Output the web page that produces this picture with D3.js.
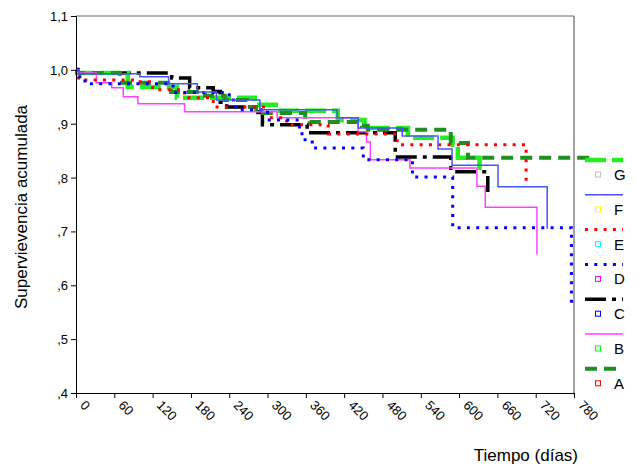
<!DOCTYPE html>
<html>
<head>
<meta charset="utf-8">
<script src="https://cdn.jsdelivr.net/npm/d3@7"></script>
<style>
  body { margin: 0; background: #fff; }
  svg text { font-family: "Liberation Sans", Arial, sans-serif; fill: #000; }
</style>
</head>
<body>
<svg id="chart" width="638" height="468"></svg>
<script>
// groups and their survival steps (time in days, cumulative survival)
var groups = ["A", "B", "C", "D", "E", "F", "G"];

var timeA = [0, 1.5, 69, 149, 202, 233, 268, 282, 359, 366, 448, 457, 587, 614, 810];
var survA = [1, .994, .976, .959, .952, .944, .931, .920, .913, .903, .896, .889, .864, .837, .837];

var timeB = [0, 2, 32, 56, 74, 97, 170, 315, 442, 455, 461, 523, 628, 641, 722];
var survB = [1, .994, .976, .967, .950, .937, .922, .911, .885, .866, .833, .818, .784, .745, .657];

var timeC = [0, 3, 150, 178, 215, 226, 236, 285, 292, 362, 500, 587, 645];
var survC = [1, .994, .985, .967, .960, .940, .931, .921, .898, .883, .838, .811, .773];

var timeD = [0, 3, 14, 152, 240, 250, 300, 350, 354, 370, 450, 527, 590, 776];
var survD = [1, .987, .974, .958, .944, .926, .907, .885, .870, .855, .833, .801, .707, .563];

var timeE = [0, 4, 95, 120, 170, 215, 300, 330, 395, 503, 705];
var survE = [1, .981, .978, .963, .948, .931, .911, .898, .881, .861, .792];

var timeF = [0, 5, 100, 145, 190, 220, 288, 409, 442, 511, 567, 589, 661, 738];
var survF = [1, .993, .987, .974, .959, .944, .926, .911, .892, .877, .853, .823, .783, .705];

var timeG = [0, 2, 81, 158, 280, 320, 410, 452, 520, 590, 598, 632];
var survG = [1, .994, .968, .948, .935, .924, .907, .892, .874, .861, .837, .814];

var xTicks = [0, 60, 120, 180, 240, 300, 360, 420, 480, 540, 600, 660, 720, 780];
var yTicks = [0.4, 0.5, 0.6, 0.7, 0.8, 0.9, 1.0, 1.1];
var yTickLabels = [",4", ",5", ",6", ",7", ",8", ",9", "1,0", "1,1"];
var legendOrder = ["G", "F", "E", "D", "C", "B", "A"];

var series = {
    A: [timeA, survA], B: [timeB, survB], C: [timeC, survC], D: [timeD, survD],
    E: [timeE, survE], F: [timeF, survF], G: [timeG, survG]
};

// line style per group, marker colour is the censor symbol in the legend
var styles = {
    A: {stroke: "#1f8f1f", width: 4, dash: "12,7", marker: "#ff0000"},
    B: {stroke: "#ff40ff", width: 1.5, dash: null, marker: "#00ff00"},
    C: {stroke: "#000000", width: 3.5, dash: "21,6,4,6", marker: "#0000ff"},
    D: {stroke: "#0000ff", width: 3, dash: "3,6.3", marker: "#ff00ff"},
    E: {stroke: "#ff0000", width: 3, dash: "3,6.3", marker: "#00ffff"},
    F: {stroke: "#4455ff", width: 1.5, dash: null, marker: "#ffff00"},
    G: {stroke: "#22ee22", width: 4.5, dash: "21,6", marker: "#c0c0c0"}
};

var svg = d3.select("#chart");
var x = d3.scaleLinear().domain([0, 780]).range([76, 574]);
var y = d3.scaleLinear().domain([0.4, 1.1]).range([393, 16]);

// frame
svg.append("line").attr("x1", 76).attr("x2", 574).attr("y1", 16).attr("y2", 16)
    .attr("stroke", "#666").attr("stroke-width", 1);
svg.append("line").attr("x1", 574).attr("x2", 574).attr("y1", 16).attr("y2", 393)
    .attr("stroke", "#666").attr("stroke-width", 1.2);

// curves
var line = d3.line()
    .x(function(d) { return x(d[0]); })
    .y(function(d) { return y(d[1]); })
    .curve(d3.curveStepAfter);

var drawOrder = ["C", "G", "A", "B", "E", "D", "F"];
drawOrder.forEach(function(g) {
    var t = series[g][0], s = series[g][1];
    var pts = t.map(function(v, i) { return [v, s[i]]; });
    var st = styles[g];
    svg.append("path")
        .attr("d", line(pts))
        .attr("fill", "none")
        .attr("stroke", st.stroke)
        .attr("stroke-width", st.width)
        .attr("stroke-dasharray", st.dash);
});

// axes
var yAxis = d3.axisLeft(y).tickValues(yTicks).tickSize(5)
    .tickFormat(function(d, i) { return yTickLabels[i]; });
var gy = svg.append("g").attr("transform", "translate(76,0)").call(yAxis);
gy.select(".domain").attr("stroke", "#000");
gy.selectAll("text").style("font-size", "13px").attr("dy", "0.35em").attr("x", -8);

var xAxis = d3.axisBottom(x).tickValues(xTicks).tickSize(5).tickFormat(d3.format("d"));
var gx = svg.append("g").attr("transform", "translate(0,393)").call(xAxis);
gx.select(".domain").attr("stroke", "#000");
gx.selectAll("text")
    .style("font-size", "13px")
    .attr("text-anchor", "start")
    .attr("y", 0).attr("dy", 0)
    .attr("transform", "translate(3,13) rotate(45)");

// titles
svg.append("text")
    .attr("transform", "translate(27,207) rotate(-90)")
    .attr("text-anchor", "middle")
    .style("font-size", "17px")
    .text("Supervievencia acumulada");

svg.append("text")
    .attr("x", 578).attr("y", 461)
    .attr("text-anchor", "end")
    .style("font-size", "17px")
    .text("Tiempo (días)");

// legend
legendOrder.forEach(function(g, i) {
    var st = styles[g];
    var ly = 160 + i * 34.8;
    svg.append("line")
        .attr("x1", 585).attr("x2", 623).attr("y1", ly).attr("y2", ly)
        .attr("stroke", st.stroke)
        .attr("stroke-width", st.width)
        .attr("stroke-dasharray", st.dash);
    svg.append("rect")
        .attr("x", 595.5).attr("y", ly + 12).attr("width", 5).attr("height", 5)
        .attr("fill", "none").attr("stroke", st.marker).attr("stroke-width", 1);
    svg.append("text")
        .attr("x", 614).attr("y", ly + 20)
        .style("font-size", "15px")
        .text(g);
});
</script>
</body>
</html>
